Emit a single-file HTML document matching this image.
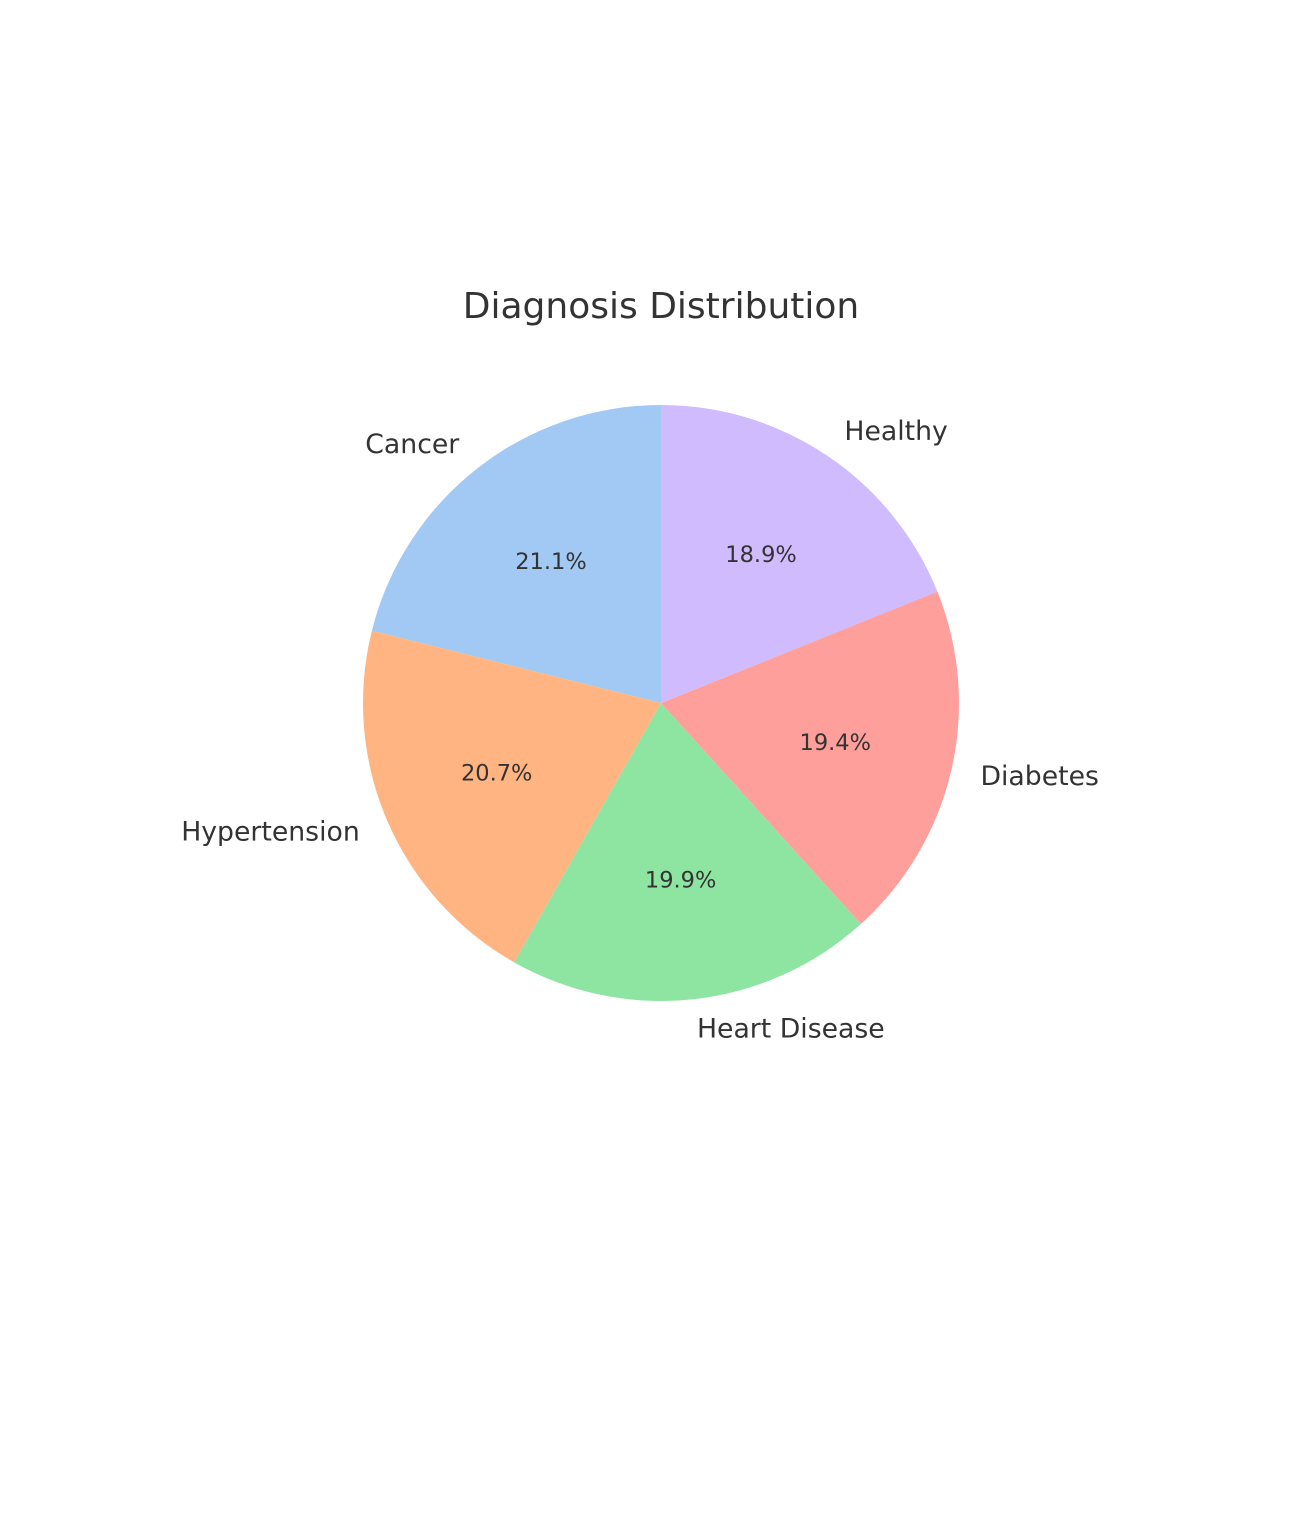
<!DOCTYPE html>
<html><head><meta charset="utf-8"><style>
html,body{margin:0;padding:0;background:#fff;}
svg text{font-family:"DejaVu Sans","Liberation Sans",sans-serif;fill:#333;}
</style></head><body>
<svg id="chart" width="1290" height="1525" viewBox="0 0 1290 1525" xmlns="http://www.w3.org/2000/svg">
<rect width="1290" height="1525" fill="#fff"/>
<text x="661" y="318" text-anchor="middle" font-size="36">Diagnosis Distribution</text>
<g id="slices"></g>
</svg>
<script>
const categories = ["Cancer","Hypertension","Heart Disease","Diabetes","Healthy"];
const values = [21.1,20.7,19.9,19.4,18.9];
const pctLabels = ["21.1%","20.7%","19.9%","19.4%","18.9%"];
const colors = ["#a1c9f4","#ffb482","#8de5a1","#ff9f9b","#d0bbff"];
const cx=661, cy=703, R=298;
const NS="http://www.w3.org/2000/svg";
const g=document.getElementById('slices');
const total=values.reduce((a,b)=>a+b,0);
let a=90;
function pt(deg,r){const t=deg*Math.PI/180;return [cx+r*Math.cos(t), cy-r*Math.sin(t)];}
values.forEach((v,i)=>{
  const span=v/total*360, a2=a+span;
  const [x1,y1]=pt(a,R),[x2,y2]=pt(a2,R);
  const p=document.createElementNS(NS,'path');
  p.setAttribute('d',`M${cx},${cy} L${x1},${y1} A${R},${R} 0 ${span>180?1:0} 0 ${x2},${y2} Z`);
  p.setAttribute('fill',colors[i]);
  
  
  g.appendChild(p);
  const mid=a+span/2;
  const [lx,ly]=pt(mid,R*1.1);
  const t=document.createElementNS(NS,'text');
  t.setAttribute('x',lx);t.setAttribute('y',ly);
  t.setAttribute('font-size','26.7');
  t.setAttribute('dominant-baseline','central');
  t.setAttribute('text-anchor',Math.cos(mid*Math.PI/180)>=0?'start':'end');
  t.textContent=categories[i];
  
  
  g.appendChild(t);
  const [px,py]=pt(mid,R*0.6);
  const q=document.createElementNS(NS,'text');
  q.setAttribute('x',px);q.setAttribute('y',py);
  q.setAttribute('font-size','22.5');
  q.setAttribute('dominant-baseline','central');
  q.setAttribute('text-anchor','middle');
  q.textContent=pctLabels[i];
  
  
  g.appendChild(q);
  a=a2;
});
</script>
</body></html>
